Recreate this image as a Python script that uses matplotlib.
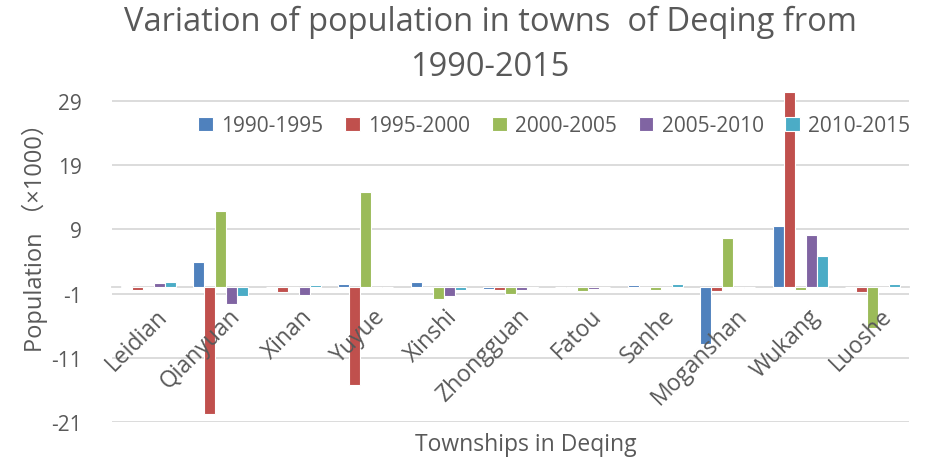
import matplotlib
matplotlib.use("Agg")
import matplotlib.pyplot as plt
import numpy as np

towns = ["Leidian", "Qianyuan", "Xinan", "Yuyue", "Xinshi", "Zhongguan",
         "Fatou", "Sanhe", "Moganshan", "Wukang", "Luoshe"]
periods = ["1990-1995", "1995-2000", "2000-2005", "2005-2010", "2010-2015"]

# change in population (x1000)
p1990_1995 = [0.2, 4.0, 0.1, 0.55, 0.8, -0.3, 0.1, 0.3, -8.8, 9.6, 0.05]
p1995_2000 = [-0.4, -19.7, -0.7, -15.3, 0.0, -0.5, 0.0, -0.2, -0.6, 30.4, -0.7]
p2000_2005 = [0.05, 11.8, 0.05, 14.9, -1.8, -1.0, -0.6, -0.4, 7.7, -0.5, -6.3]
p2005_2010 = [0.67, -2.6, -1.2, 0.1, -1.4, -0.5, -0.3, 0.1, -0.1, 8.2, 0.0]
p2010_2015 = [0.8, -1.4, 0.3, 0.1, -0.5, -0.1, 0.0, 0.55, 0.05, 4.9, 0.45]
series = [p1990_1995, p1995_2000, p2000_2005, p2005_2010, p2010_2015]
colors = ["#4F81BD", "#C0504D", "#9BBB59", "#8064A2", "#4BACC6"]
yticks = [-21, -11, -1, 9, 19, 29]

TEXT = "#595959"
plt.rcParams["font.family"] = ["Open Sans", "Noto Sans CJK SC", "DejaVu Sans"]
plt.rcParams["axes.unicode_minus"] = False

fig = plt.figure(figsize=(9.34, 4.6), dpi=100)
ax = fig.add_axes([112 / 934, 1 - 423 / 460, 797 / 934, 330.6 / 460])

x = np.arange(len(towns))
pitch = 0.152
for i, (vals, col, lab) in enumerate(zip(series, colors, periods)):
    ax.bar(x + (i - 2) * pitch, vals, width=pitch, color=col, edgecolor="white",
           linewidth=0.8, label=lab, zorder=3)

ax.set_xlim(-0.5, len(towns) - 0.5)
ax.set_ylim(-21, 30.5)
ax.set_yticks(yticks)
ax.yaxis.grid(True, color="#D9D9D9", linewidth=1.3)
ax.set_axisbelow(True)
ax.xaxis.set_zorder(5)  # town names sit on top of the bars, like Excel
for s in ["top", "right", "left"]:
    ax.spines[s].set_visible(False)
ax.spines["bottom"].set_position(("data", 0))
ax.spines["bottom"].set_color("#D9D9D9")
ax.spines["bottom"].set_linewidth(1.3)
ax.tick_params(axis="y", length=0, labelsize=15, labelcolor=TEXT, pad=22)
ax.tick_params(axis="x", length=0, labelsize=16.5, labelcolor=TEXT, pad=12)
ax.set_xticks(x + 0.1)
ax.set_xticklabels(towns, rotation=45, ha="right", va="top", rotation_mode="anchor")

fig.text(35 / 934, 1 - 232 / 460, "Population （×1000）", rotation=90,
         ha="center", va="center", fontsize=17, color=TEXT)
fig.text(526 / 934, 1 - 445 / 460, "Townships in Deqing", ha="center", va="center",
         fontsize=16.5, color=TEXT)
fig.text(490 / 934, 1 - 22 / 460, "Variation of population in towns  of Deqing from",
         ha="center", va="center", fontsize=23.5, color=TEXT)
fig.text(490 / 934, 1 - 68 / 460, "1990-2015", ha="center", va="center",
         fontsize=23.5, color=TEXT)

ax.legend(loc="upper center", bbox_to_anchor=(0.555, 0.985), ncol=5,
          frameon=False, fontsize=15, handlelength=0.7, handleheight=0.7,
          handletextpad=0.4, columnspacing=1.05, labelcolor=TEXT)

fig.savefig("out.png", dpi=100, facecolor="white")
